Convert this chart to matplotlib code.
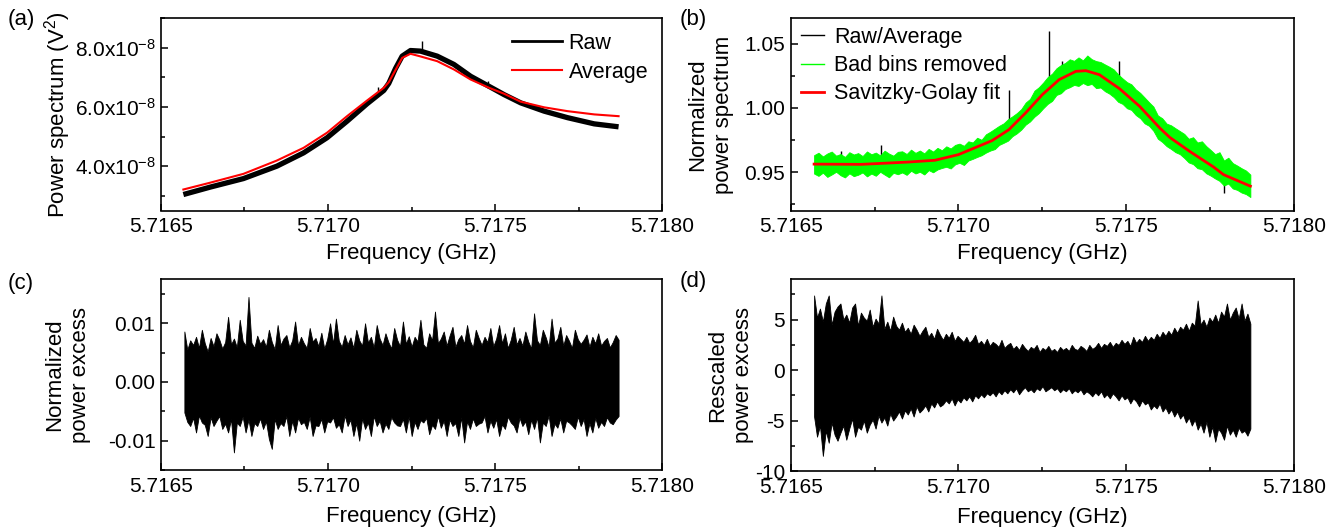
import numpy as np
import matplotlib
matplotlib.use('Agg')
import matplotlib.pyplot as plt
from matplotlib.ticker import MultipleLocator, FormatStrFormatter, FuncFormatter
from matplotlib.lines import Line2D

plt.rcParams['font.family'] = ['Liberation Sans', 'DejaVu Sans']
plt.rcParams['mathtext.default'] = 'regular'
plt.rcParams['axes.unicode_minus'] = False

# ---------------- data ----------------
F_START, F_END = 5.71657, 5.71787

# (a) power spectrum
a_freq = [5.716567, 5.716647, 5.716747, 5.716847, 5.716927, 5.716997, 5.717057,
          5.717117, 5.717167, 5.717182, 5.717202, 5.717222, 5.717247, 5.717277,
          5.717327, 5.717377, 5.717427, 5.717482, 5.717527, 5.717577, 5.717647,
          5.717717, 5.717797, 5.717870]
a_raw = [3.04e-8, 3.29e-8, 3.58e-8, 4.00e-8, 4.45e-8, 4.96e-8, 5.52e-8,
         6.11e-8, 6.56e-8, 6.80e-8, 7.30e-8, 7.72e-8, 7.91e-8, 7.89e-8,
         7.72e-8, 7.44e-8, 7.04e-8, 6.70e-8, 6.42e-8, 6.14e-8, 5.86e-8,
         5.64e-8, 5.43e-8, 5.33e-8]
a_avg = [3.21e-8, 3.44e-8, 3.74e-8, 4.19e-8, 4.62e-8, 5.13e-8, 5.69e-8,
         6.22e-8, 6.65e-8, 6.84e-8, 7.25e-8, 7.66e-8, 7.80e-8, 7.71e-8,
         7.55e-8, 7.27e-8, 6.93e-8, 6.65e-8, 6.45e-8, 6.18e-8, 5.99e-8,
         5.86e-8, 5.75e-8, 5.69e-8]
a_spike_f = [5.71715, 5.71728, 5.71748]
a_spike_lo = [6.45e-8, 7.90e-8, 6.65e-8]
a_spike_hi = [6.68e-8, 8.22e-8, 6.87e-8]

# (b) normalized spectrum
b_freq = [5.71657, 5.71671, 5.71685, 5.71693, 5.71700, 5.71710, 5.71715,
          5.71720, 5.71725, 5.71730, 5.71735, 5.71738, 5.71742, 5.71748,
          5.71754, 5.71760, 5.71763, 5.71769, 5.71776, 5.71779, 5.71787]
b_fit = [0.9562, 0.9560, 0.9578, 0.9592, 0.9636, 0.9745, 0.9830,
         0.9961, 1.0104, 1.0221, 1.0286, 1.0291, 1.0260, 1.0151,
         1.0013, 0.9844, 0.9770, 0.9660, 0.9540, 0.9480, 0.9390]
# ragged upper / lower edges of the green band, left to right
b_up = [0.9632, 0.9651, 0.9622, 0.9645, 0.9660, 0.9628, 0.9641, 0.9618, 0.9655, 0.9637,
        0.9648, 0.9625, 0.9661, 0.9639, 0.9652, 0.9630, 0.9667, 0.9644, 0.9628, 0.9658,
        0.9662, 0.9641, 0.9675, 0.9650, 0.9668, 0.9646, 0.9681, 0.9660, 0.9689, 0.9670,
        0.9701, 0.9684, 0.9712, 0.9722, 0.9705, 0.9740, 0.9731, 0.9768, 0.9752, 0.9795,
        0.9815, 0.9838, 0.9861, 0.9880, 0.9912, 0.9935, 0.9960, 0.9991, 1.0042, 1.0071,
        1.0135, 1.0162, 1.0199, 1.0241, 1.0268, 1.0310, 1.0335, 1.0352, 1.0380, 1.0368,
        1.0395, 1.0372, 1.0410, 1.0381, 1.0366, 1.0359, 1.0340, 1.0322, 1.0301, 1.0262,
        1.0231, 1.0202, 1.0185, 1.0145, 1.0118, 1.0082, 1.0045, 1.0011, 0.9942, 0.9920,
        0.9878, 0.9865, 0.9842, 0.9820, 0.9798, 0.9760, 0.9772, 0.9731, 0.9740, 0.9702,
        0.9672, 0.9640, 0.9655, 0.9590, 0.9612, 0.9570, 0.9551, 0.9530, 0.9512, 0.9480]
b_down = [0.9488, 0.9470, 0.9495, 0.9462, 0.9481, 0.9502, 0.9475, 0.9458, 0.9490, 0.9468,
          0.9479, 0.9497, 0.9466, 0.9488, 0.9471, 0.9502, 0.9480, 0.9459, 0.9494, 0.9483,
          0.9497, 0.9478, 0.9510, 0.9489, 0.9502, 0.9481, 0.9515, 0.9498, 0.9520, 0.9532,
          0.9541, 0.9528, 0.9560, 0.9572, 0.9555, 0.9590, 0.9603, 0.9618, 0.9631, 0.9652,
          0.9668, 0.9679, 0.9712, 0.9728, 0.9745, 0.9780, 0.9802, 0.9831, 0.9870, 0.9895,
          0.9932, 0.9960, 0.9998, 1.0032, 1.0055, 1.0102, 1.0115, 1.0148, 1.0162, 1.0180,
          1.0172, 1.0195, 1.0178, 1.0188, 1.0155, 1.0160, 1.0131, 1.0112, 1.0085, 1.0048,
          1.0032, 0.9998, 0.9985, 0.9945, 0.9920, 0.9880, 0.9861, 0.9822, 0.9760, 0.9735,
          0.9702, 0.9680, 0.9655, 0.9640, 0.9610, 0.9575, 0.9562, 0.9530, 0.9522, 0.9490,
          0.9472, 0.9450, 0.9431, 0.9395, 0.9410, 0.9372, 0.9361, 0.9340, 0.9328, 0.9305]
b_spike_f = [5.71665, 5.71677, 5.71715, 5.71727, 5.71731, 5.71748, 5.71777, 5.71779, 5.71784]
b_spike_lo = [0.958, 0.958, 0.990, 1.020, 1.028, 1.017, 0.950, 0.934, 0.935]
b_spike_hi = [0.9665, 0.9708, 1.0143, 1.0598, 1.037, 1.0364, 0.9604, 0.946, 0.944]

# (c) normalized power excess, in units of 1e-4: upper / lower excursions, left to right
c_up_e4 = [86, 55, 71, 63, 77, 58, 89, 66, 52, 75, 61, 83, 72, 57, 68, 111, 64, 74, 59, 106,
           70, 62, 145, 67, 58, 79, 65, 73, 60, 89,
           68, 56, 97, 63, 74, 80, 59, 71, 103, 62, 77, 66, 58, 92, 69, 75, 61, 84, 57, 73,
           100, 65, 108, 70, 60, 80, 64, 76, 58, 89,
           71, 62, 100, 67, 77, 59, 97, 74, 63, 83, 68, 57, 92, 72, 61, 103, 65, 78, 60, 77,
           69, 106, 64, 58, 83, 71, 120, 66, 74, 86,
           62, 79, 94, 60, 73, 80, 65, 97, 70, 59, 89, 75, 63, 77, 68, 92, 61, 74, 97, 66,
           83, 58, 72, 94, 64, 75, 62, 86, 69, 57,
           117, 71, 63, 89, 76, 60, 108, 67, 74, 94, 62, 80, 70, 58, 89, 73, 65, 72, 81, 60,
           77, 66, 83, 62, 70, 75, 59, 68, 80, 72]
c_down_e4 = [52, 68, 75, 61, 86, 57, 69, 73, 92, 60, 75, 66, 58, 80, 71, 86, 63, 120, 69, 75,
             59, 86, 64, 92, 70, 75, 62, 80, 67, 97,
             114, 63, 80, 70, 75, 58, 92, 66, 86, 61, 72, 68, 80, 59, 92, 74, 75, 63, 86, 67,
             69, 60, 78, 72, 86, 57, 75, 64, 92, 70,
             100, 62, 80, 69, 92, 58, 75, 66, 86, 71, 80, 60, 69, 74, 75, 63, 86, 59, 92, 68,
             80, 65, 69, 61, 89, 73, 80, 58, 78, 66,
             92, 64, 75, 70, 92, 60, 103, 67, 80, 62, 75, 71, 69, 58, 86, 66, 78, 63, 92, 72,
             80, 59, 69, 74, 86, 61, 75, 67, 89, 64,
             80, 60, 103, 69, 75, 57, 92, 71, 78, 62, 86, 66, 69, 74, 80, 59, 75, 63, 92, 70,
             86, 61, 78, 68, 75, 60, 69, 72, 64, 58]

# (d) rescaled power excess, in units of 0.1: upper / lower excursions, left to right
d_up_e1 = [74, 52, 61, 48, 66, 74, 45, 58, 63, 66, 50, 55, 47, 62, 66, 44, 57, 52, 49, 60,
           43, 51, 46, 74, 41, 48, 39, 53, 44, 40,
           47, 38, 42, 36, 45, 40, 34, 39, 43, 33, 37, 31, 41, 35, 30, 36, 32, 38, 29, 34,
           31, 28, 33, 27, 30, 35, 26, 29, 25, 31,
           24, 28, 26, 23, 30, 22, 25, 27, 21, 24, 20, 26, 22, 19, 23, 21, 25, 18, 22, 20,
           24, 19, 21, 18, 23, 20, 22, 19, 25, 21,
           20, 24, 22, 19, 25, 21, 23, 27, 22, 26, 24, 28, 23, 27, 25, 30, 26, 29, 24, 33,
           27, 31, 28, 34, 29, 33, 30, 36, 32, 38,
           34, 39, 35, 42, 37, 43, 40, 46, 39, 47, 44, 69, 45, 50, 43, 52, 48, 55, 47, 58,
           53, 66, 50, 57, 62, 51, 66, 49, 56, 46]
d_down_e1 = [46, 66, 55, 85, 60, 72, 52, 64, 70, 62, 55, 69, 58, 48, 66, 56, 59, 50, 62, 54,
             49, 58, 45, 52, 47, 55, 43, 50, 46, 41,
             48, 40, 44, 38, 46, 36, 42, 39, 35, 41, 33, 37, 31, 36, 34, 30, 33, 28, 35, 29,
             32, 27, 30, 26, 31, 25, 28, 24, 27, 23,
             25, 22, 26, 21, 24, 20, 23, 19, 22, 18, 24, 20, 17, 21, 19, 22, 18, 20, 16, 21,
             19, 17, 20, 18, 22, 19, 21, 18, 23, 20,
             22, 19, 24, 21, 23, 26, 22, 25, 21, 27, 24, 28, 23, 26, 30, 25, 29, 27, 33, 28,
             31, 36, 30, 34, 32, 39, 35, 38, 33, 41,
             37, 43, 39, 46, 41, 48, 44, 52, 47, 55, 49, 59, 53, 62, 51, 66, 56, 71, 58, 62,
             69, 55, 64, 59, 66, 57, 62, 60, 65, 58]

X_LABEL = 'Frequency (GHz)'

# ---------------- helpers ----------------
W, H = 1338, 527
fig = plt.figure(figsize=(W / 100, H / 100), dpi=100)


def rect(l, r, t, b):
    return [l / W, 1 - b / H, (r - l) / W, (b - t) / H]


TICK_FS = 15
LABEL_FS = 16


def style(ax):
    ax.set_xlim(5.7165, 5.7180)
    ax.xaxis.set_major_locator(MultipleLocator(0.0005))
    ax.xaxis.set_minor_locator(MultipleLocator(0.00025))
    ax.xaxis.set_major_formatter(FormatStrFormatter('%.4f'))
    ax.tick_params(which='both', direction='in', top=False, right=False,
                   labelsize=TICK_FS, width=1.1)
    ax.tick_params(which='major', length=5)
    ax.tick_params(which='minor', length=3)
    ax.tick_params(axis='x', pad=5)
    ax.tick_params(axis='y', pad=4)
    for s in ax.spines.values():
        s.set_linewidth(1.2)
    ax.set_xlabel(X_LABEL, fontsize=LABEL_FS)


def band(ax, up, down, color, scale=1.0, sign_down=1.0, zorder=2):
    n = min(len(up), len(down))
    f = np.linspace(F_START, F_END, n)
    hi = np.asarray(up[:n], dtype=float) * scale
    lo = np.asarray(down[:n], dtype=float) * scale * sign_down
    ax.fill_between(f, lo, hi, color=color, lw=0.6, edgecolor=color, zorder=zorder)


# ---------------- (a) ----------------
ax_a = fig.add_axes(rect(161, 662, 18.3, 210.5))
ax_a.plot(a_freq, a_raw, color='black', lw=3.8, solid_capstyle='butt')
ax_a.vlines(a_spike_f, a_spike_lo, a_spike_hi, color='black', lw=1.0)
ax_a.plot(a_freq, a_avg, color='#ff0000', lw=1.5)
style(ax_a)
ax_a.set_ylim(2.5e-8, 9.0e-8)
ax_a.yaxis.set_major_locator(MultipleLocator(2e-8))
ax_a.yaxis.set_minor_locator(MultipleLocator(1e-8))
ax_a.yaxis.set_major_formatter(FuncFormatter(lambda v, p: '%.1fx10$^{-8}$' % (v / 1e-8)))
ax_a.set_ylabel('Power spectrum (V$^{2}$)', fontsize=LABEL_FS)
ax_a.yaxis.set_label_coords(-0.176, 0.5)
ax_a.xaxis.set_label_coords(0.5, -0.17)
ax_a.legend([Line2D([], [], color='black', lw=2.0), Line2D([], [], color='#ff0000', lw=1.5)],
            ['Raw', 'Average'], loc='upper left', bbox_to_anchor=(0.70, 0.925),
            frameon=False, fontsize=15.5, handlelength=2.35, handletextpad=0.3,
            borderpad=0, borderaxespad=0, labelspacing=0.38)

# ---------------- (b) ----------------
ax_b = fig.add_axes(rect(790.6, 1294, 18.3, 210.5))
ax_b.vlines(b_spike_f, b_spike_lo, b_spike_hi, color='black', lw=1.0, zorder=1)
band(ax_b, b_up, b_down, '#00ff00', zorder=2)
ax_b.plot(b_freq, b_fit, color='#ff0000', lw=2.0, zorder=3)
style(ax_b)
ax_b.set_ylim(0.92, 1.07)
ax_b.yaxis.set_major_locator(MultipleLocator(0.05))
ax_b.yaxis.set_minor_locator(MultipleLocator(0.025))
ax_b.yaxis.set_major_formatter(FormatStrFormatter('%.2f'))
ax_b.set_ylabel('Normalized\npower spectrum', fontsize=LABEL_FS, linespacing=1.3)
ax_b.yaxis.set_label_coords(-0.112, 0.5)
ax_b.xaxis.set_label_coords(0.5, -0.17)
ax_b.legend([Line2D([], [], color='black', lw=1.0), Line2D([], [], color='#00ff00', lw=1.0),
             Line2D([], [], color='#ff0000', lw=2.0)],
            ['Raw/Average', 'Bad bins removed', 'Savitzky-Golay fit'],
            loc='upper left', bbox_to_anchor=(0.02, 0.955), frameon=False, fontsize=15.5,
            handlelength=1.1, handletextpad=0.45, borderpad=0, borderaxespad=0,
            labelspacing=0.33)

# ---------------- (c) ----------------
ax_c = fig.add_axes(rect(161, 662, 279.3, 470))
band(ax_c, c_up_e4, c_down_e4, 'black', scale=1e-4, sign_down=-1.0)
style(ax_c)
ax_c.set_ylim(-0.015, 0.0175)
ax_c.yaxis.set_major_locator(MultipleLocator(0.01))
ax_c.yaxis.set_minor_locator(MultipleLocator(0.005))
ax_c.yaxis.set_major_formatter(FormatStrFormatter('%.2f'))
ax_c.set_ylabel('Normalized\npower excess', fontsize=LABEL_FS, linespacing=1.3)
ax_c.yaxis.set_label_coords(-0.14, 0.5)
ax_c.xaxis.set_label_coords(0.5, -0.19)

# ---------------- (d) ----------------
ax_d = fig.add_axes(rect(790.6, 1294, 279.3, 471))
band(ax_d, d_up_e1, d_down_e1, 'black', scale=0.1, sign_down=-1.0)
style(ax_d)
ax_d.set_ylim(-10, 9)
ax_d.yaxis.set_major_locator(MultipleLocator(5))
ax_d.yaxis.set_minor_locator(MultipleLocator(2.5))
ax_d.yaxis.set_major_formatter(FormatStrFormatter('%d'))
ax_d.set_ylabel('Rescaled\npower excess', fontsize=LABEL_FS, linespacing=1.3)
ax_d.yaxis.set_label_coords(-0.072, 0.5)
ax_d.xaxis.set_label_coords(0.5, -0.19)

# panel letters
for lab, x, y in [('(a)', 8, 20), ('(b)', 680, 20), ('(c)', 8, 284), ('(d)', 680, 282)]:
    fig.text(x / W, 1 - y / H, lab, fontsize=16, ha='left', va='center')

fig.savefig('out.png', dpi=100)
